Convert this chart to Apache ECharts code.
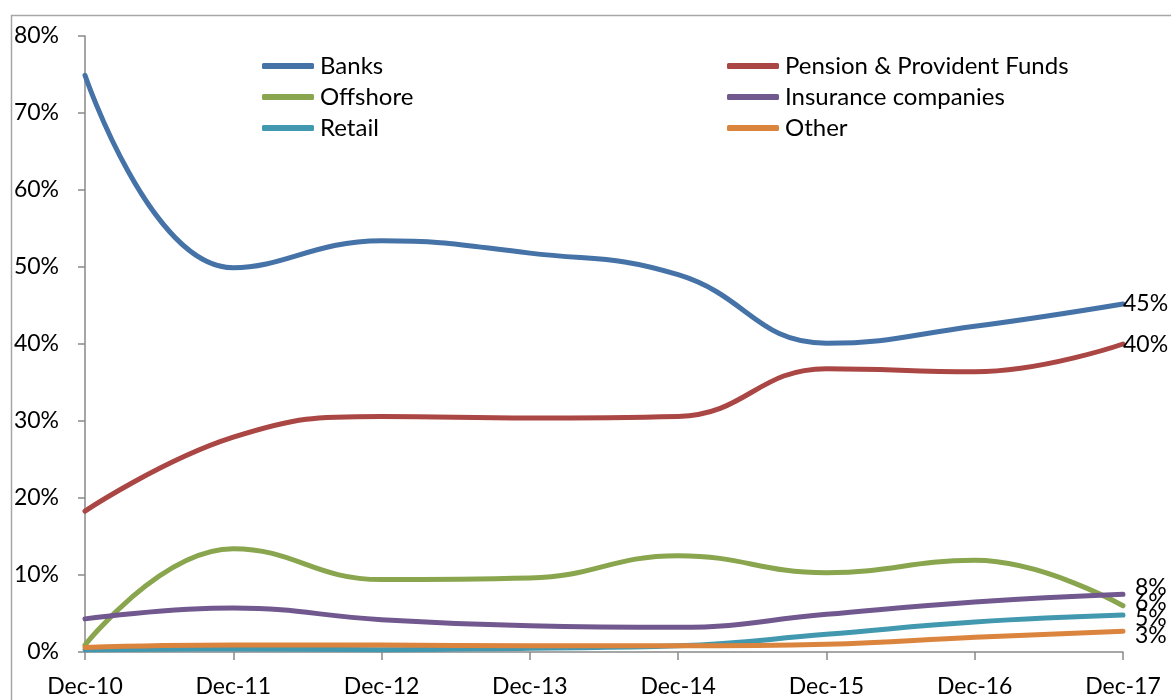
<!DOCTYPE html>
<html>
<head>
<meta charset="utf-8">
<script src="https://cdn.jsdelivr.net/npm/echarts@6/dist/echarts.min.js"></script>
<style>
  html, body { margin: 0; padding: 0; background: #fff; }
  #chart { width: 1171px; height: 700px; }
</style>
</head>
<body>
<div id="chart"></div>
<script>
// Holdings by investor type, share of total (%)
const categories = ['Dec-10', 'Dec-11', 'Dec-12', 'Dec-13', 'Dec-14', 'Dec-15', 'Dec-16', 'Dec-17'];
const banks     = [74.9, 49.9, 53.4, 51.8, 49.0, 40.1, 42.3, 45.2];
const pension   = [18.3, 27.9, 30.6, 30.4, 30.6, 36.8, 36.4, 40.0];
const offshore  = [0.9, 13.4, 9.4, 9.6, 12.5, 10.3, 11.9, 6.0];
const insurance = [4.3, 5.7, 4.2, 3.4, 3.2, 4.9, 6.5, 7.5];
const retail    = [0.3, 0.4, 0.3, 0.5, 0.8, 2.3, 3.9, 4.8];
const other     = [0.6, 0.9, 0.9, 0.8, 0.8, 1.0, 1.9, 2.7];
const yTicks    = [0, 10, 20, 30, 40, 50, 60, 70, 80];

const FONT = 'Lato';
const chart = echarts.init(document.getElementById('chart'), null, { renderer: 'canvas' });

function line(name, data, color, endOffset) {
  return {
    name: name,
    type: 'line',
    data: data,
    smooth: 0.45,
    symbol: 'none',
    lineStyle: { width: 5, color: color, cap: 'round' },
    itemStyle: { color: color },
    endLabel: {
      show: true,
      formatter: p => Math.round(p.value) + '%',
      color: '#000',
      fontFamily: FONT,
      fontSize: 23,
      distance: 0,
      offset: endOffset || [0, 0]
    },
    emphasis: { disabled: true },
    z: 3
  };
}

const legendCommon = {
  orient: 'vertical',
  top: 54,
  padding: 0,
  itemWidth: 52,
  itemHeight: 6,
  itemGap: 7,
  icon: 'roundRect',
  textStyle: { fontFamily: FONT, fontSize: 24, color: '#000', padding: [0, 0, 0, 1] },
  selectedMode: false
};

chart.setOption({
  animation: false,
  backgroundColor: '#fff',
  graphic: [{
    type: 'rect',
    left: 9, top: 13,
    shape: { width: 1300, height: 800 },
    style: { fill: 'none', stroke: '#a6a6a6', lineWidth: 1.5 },
    silent: true
  }],
  legend: [
    Object.assign({ left: 262, data: ['Banks', 'Offshore', 'Retail'] }, legendCommon),
    Object.assign({ left: 727, data: ['Pension & Provident Funds', 'Insurance companies', 'Other'] }, legendCommon)
  ],
  grid: { left: 85, right: 48, top: 36, bottom: 48, containLabel: false },
  xAxis: {
    type: 'category',
    data: categories,
    boundaryGap: false,
    axisLine: { lineStyle: { color: '#898989', width: 1.5 } },
    axisTick: { show: true, length: 8, inside: false, alignWithLabel: true, lineStyle: { color: '#898989', width: 1.5 } },
    axisLabel: { fontFamily: FONT, fontSize: 23, color: '#000', margin: 23, interval: 0 },
    splitLine: { show: false }
  },
  yAxis: {
    type: 'value',
    min: yTicks[0],
    max: yTicks[yTicks.length - 1],
    interval: 10,
    axisLine: { show: true, lineStyle: { color: '#898989', width: 1.5 } },
    axisTick: { show: true, length: 7, lineStyle: { color: '#898989', width: 1.5 } },
    axisLabel: { fontFamily: FONT, fontSize: 23, color: '#000', margin: 26, formatter: v => v + '%' },
    splitLine: { show: false }
  },
  series: [
    line('Banks', banks, '#4572A7'),
    line('Pension & Provident Funds', pension, '#AA4643', [0, 1]),
    line('Offshore', offshore, '#89A54E', [12, -3]),
    line('Insurance companies', insurance, '#71588F', [12, -7]),
    line('Retail', retail, '#4198AF', [12, 4]),
    line('Other', other, '#DB843D', [12, 4])
  ]
});
</script>
</body>
</html>
